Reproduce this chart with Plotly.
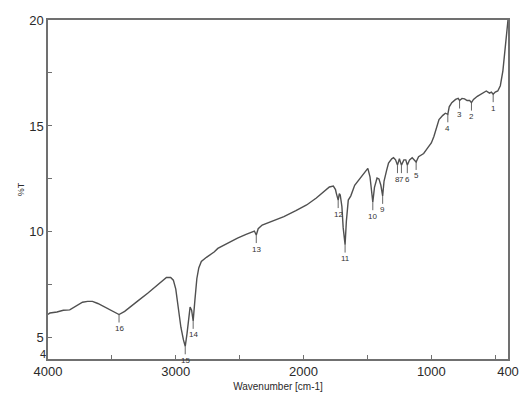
import plotly.graph_objects as go

# Spectrum (wavenumber cm-1, %T)
wavenumber = [4000, 3985, 3930, 3880, 3830, 3780, 3730, 3690, 3652, 3610, 3544, 3490, 3444,
              3400, 3350, 3289, 3220, 3158, 3110, 3073, 3040, 3019, 3000, 2980, 2960, 2940,
              2926, 2912, 2900, 2888, 2876, 2864, 2850, 2835, 2820, 2800, 2760, 2700, 2671,
              2600, 2517, 2450, 2385, 2370, 2355, 2324, 2250, 2154, 2060, 1976, 1900, 1798,
              1767, 1750, 1744, 1729, 1720, 1713, 1700, 1690, 1675, 1665, 1650, 1630, 1600,
              1560, 1520, 1497, 1480, 1465, 1458, 1445, 1425, 1410, 1395, 1381, 1370, 1350,
              1335, 1310, 1296, 1280, 1265, 1250, 1234, 1215, 1200, 1188, 1170, 1150, 1119,
              1100, 1060, 1030, 1000, 980, 960, 940, 910, 890, 871, 860, 840, 810, 790, 779,
              760, 740, 720, 700, 686, 670, 640, 600, 570, 545, 530, 516, 500, 480, 460, 440,
              425, 410, 400]
transmittance = [6.10, 6.17, 6.22, 6.30, 6.32, 6.50, 6.68, 6.72, 6.72, 6.62, 6.41, 6.22, 6.10,
                 6.25, 6.50, 6.78, 7.10, 7.40, 7.65, 7.85, 7.85, 7.72, 7.30, 6.40, 5.50, 4.90,
                 4.60, 5.20, 6.00, 6.45, 6.30, 5.80, 6.80, 7.80, 8.30, 8.60, 8.80, 9.05, 9.22,
                 9.45, 9.71, 9.88, 10.04, 9.85, 10.15, 10.32, 10.50, 10.72, 11.00, 11.27, 11.60, 12.12,
                 12.16, 12.00, 11.83, 11.50, 11.80, 11.74, 11.20, 10.20, 9.40, 10.50, 11.50, 11.70, 12.20,
                 12.50, 12.80, 13.00, 12.60, 11.80, 11.40, 12.10, 12.54, 12.50, 12.20, 11.70, 12.40, 12.90,
                 13.25, 13.45, 13.50, 13.40, 13.15, 13.45, 13.15, 13.40, 13.40, 13.15, 13.40, 13.50, 13.30,
                 13.55, 13.70, 13.95, 14.20, 14.50, 14.90, 15.30, 15.50, 15.60, 15.55, 15.90, 16.10, 16.25, 16.30, 16.20,
                 16.30, 16.28, 16.20, 16.20, 16.10, 16.25, 16.40, 16.55, 16.65, 16.55, 16.60, 16.50, 16.60, 16.65, 16.90, 17.60,
                 18.40, 19.30, 20.00]

# Labelled peaks
peak_labels = ["1", "2", "3", "4", "5", "6", "7", "8", "9", "10", "11", "12", "13", "14", "15", "16"]
peak_wavenumber = [516, 686, 779, 871, 1119, 1188, 1234, 1265, 1381, 1458, 1675, 1729, 2370, 2864, 2926, 3444]
peak_transmittance = [16.5, 16.1, 16.2, 15.55, 13.3, 13.15, 13.15, 13.15, 11.7, 11.4, 9.4, 11.5, 9.85, 5.8, 4.6, 6.1]

x_ticks = [4000, 3000, 2000, 1000, 400]
x_minor = [3500, 2500, 1500, 500]
y_ticks = [4, 5, 10, 15, 20]
y_minor = [7.5, 12.5, 17.5]

tick_font = dict(family="Liberation Sans", size=13, color="#2a2a2a")

fig = go.Figure()
fig.add_trace(go.Scatter(x=wavenumber, y=transmittance, mode="lines",
                         line=dict(color="#505050", width=1.4), showlegend=False,
                         hoverinfo="skip"))

for lab, px, py in zip(peak_labels, peak_wavenumber, peak_transmittance):
    fig.add_annotation(x=px, y=py, xref="x", yref="y", text=lab,
                       showarrow=True, arrowhead=0, arrowwidth=0.9, arrowcolor="#555",
                       ax=0, ay=14, standoff=0,
                       font=dict(family="Liberation Sans", size=8, color="#333"))

# lowest y tick label is lifted above the corner (as in the reference)
y_ticktext = [str(v) for v in y_ticks]
y_ticktext[0] = ""
fig.add_annotation(x=0, xref="paper", y=y_ticks[0], yref="y", text=str(y_ticks[0]),
                   showarrow=False, xanchor="right", yanchor="middle",
                   xshift=-1, yshift=5, borderpad=0,
                   font=dict(family="Liberation Sans", size=11, color="#2a2a2a"))

axis_common = dict(showline=True, linecolor="#707070", linewidth=1.5, mirror=True,
                   showgrid=False, zeroline=False, ticks="inside", ticklen=4,
                   tickcolor="#707070", tickwidth=1, tickfont=tick_font)

fig.update_xaxes(range=[4000, 400], tickvals=x_ticks, ticktext=[str(v) for v in x_ticks],
                 minor=dict(tickvals=x_minor, ticks="inside", ticklen=4, tickcolor="#707070"),
                 title=dict(text="Wavenumber [cm-1]", standoff=5,
                            font=dict(family="Liberation Sans", size=10, color="#2a2a2a")),
                 ticklabelstandoff=0, **axis_common)
fig.update_yaxes(range=[4, 20], tickvals=y_ticks, ticktext=y_ticktext,
                 minor=dict(tickvals=y_minor, ticks="inside", ticklen=4, tickcolor="#707070"),
                 title=dict(text="%T", standoff=3,
                            font=dict(family="Liberation Sans", size=9, color="#2a2a2a")),
                 ticklabelstandoff=0, **axis_common)

fig.update_layout(width=531, height=404, margin=dict(l=48, r=16, t=20, b=45),
                  paper_bgcolor="white", plot_bgcolor="white")

fig.write_html("out.html")
